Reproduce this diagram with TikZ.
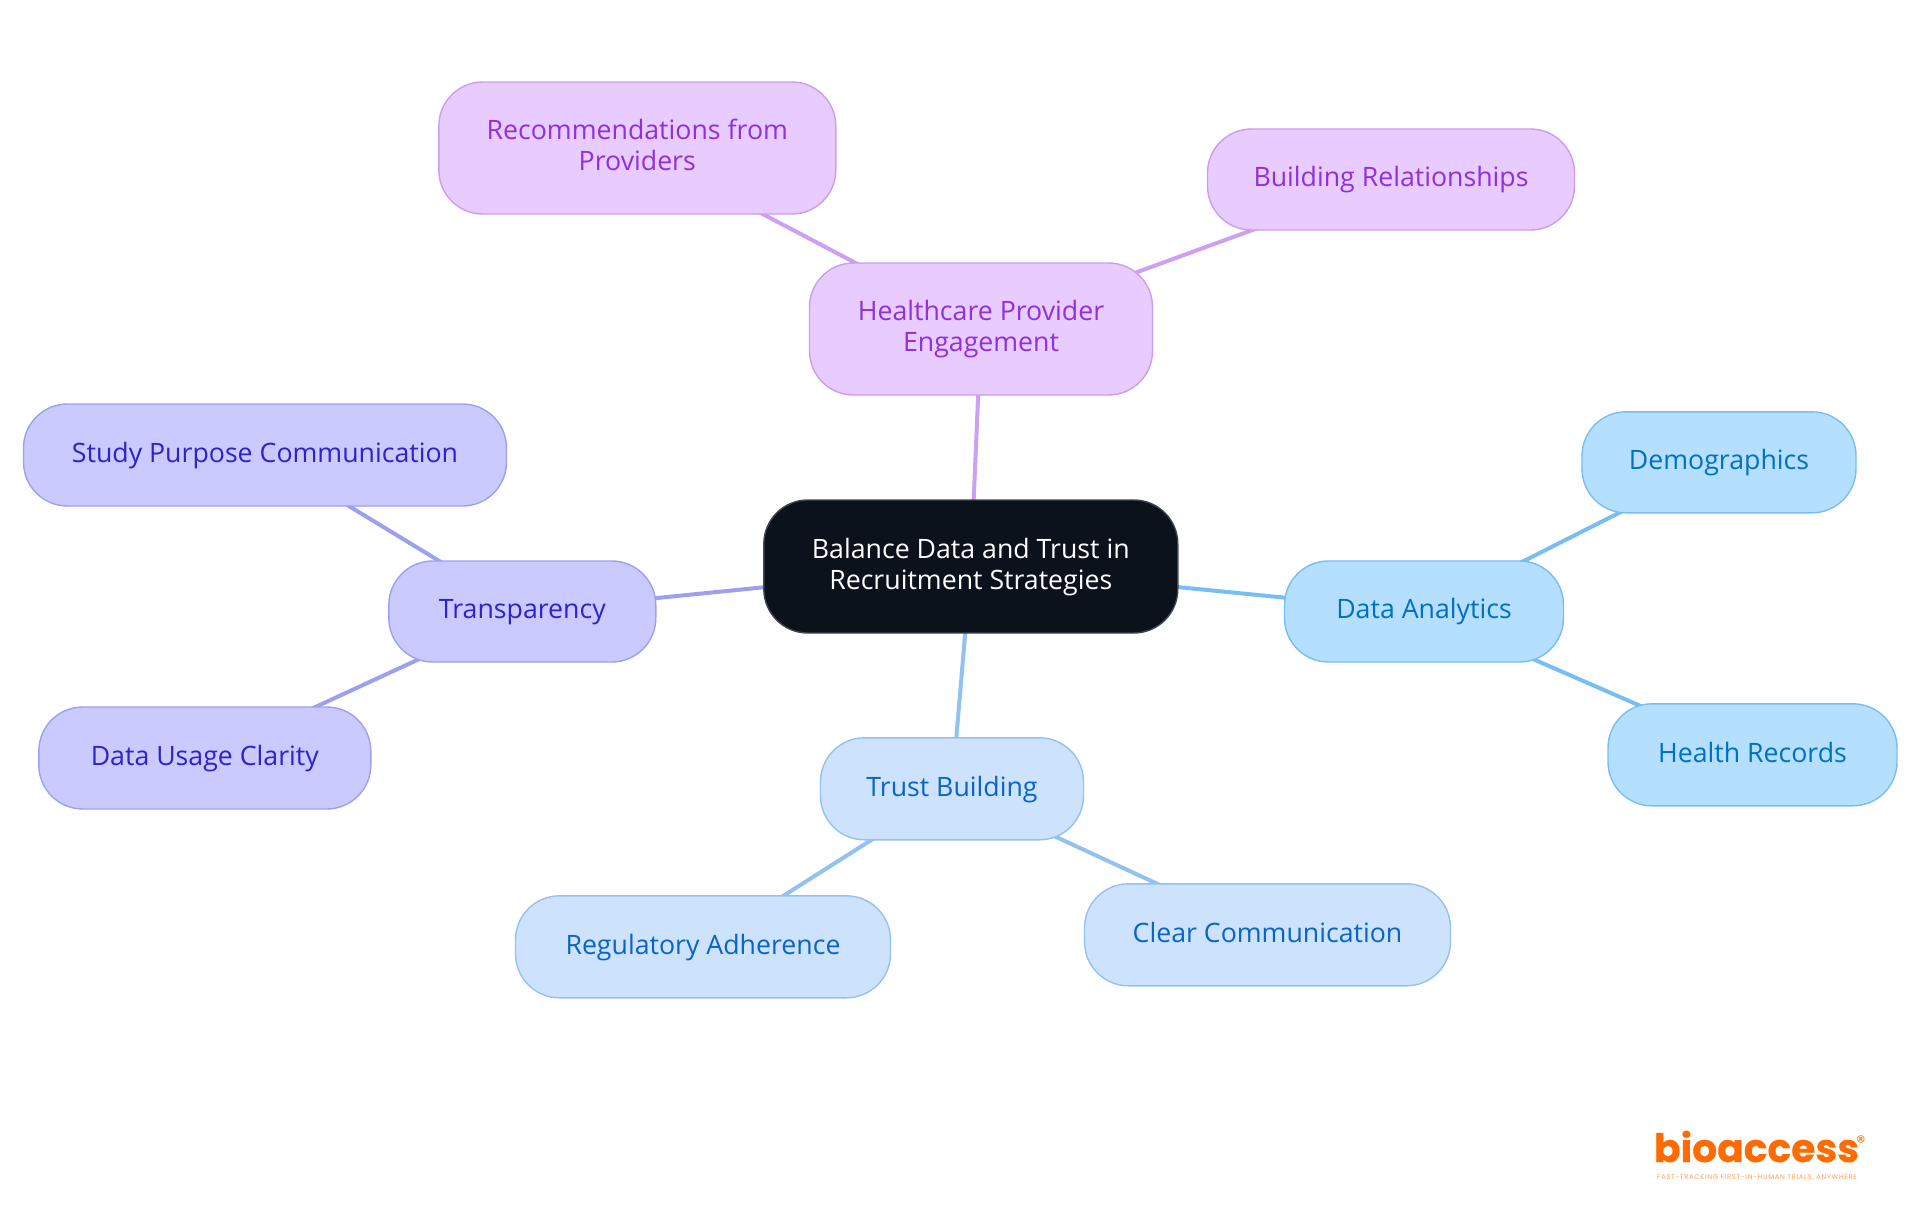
\documentclass[tikz,border=0pt]{standalone}
\usepackage{fontspec}
\setmainfont{Open Sans}
\newfontfamily\logofont{Poppins}[BoldFeatures={FakeBold=0.5}]
\usetikzlibrary{backgrounds}
\definecolor{rootfill}{HTML}{0B121B}\definecolor{rootdraw}{HTML}{40454C}
\definecolor{pfill}{HTML}{E8CBFF}\definecolor{pdraw}{HTML}{CB9DF0}\definecolor{ptext}{HTML}{9030DD}\definecolor{pedge}{HTML}{CDA0F3}
\definecolor{sfill}{HTML}{B5DFFF}\definecolor{sdraw}{HTML}{78BEF2}\definecolor{stext}{HTML}{0070C5}
\definecolor{lfill}{HTML}{CDE3FD}\definecolor{ldraw}{HTML}{94C2EF}\definecolor{ltext}{HTML}{0A64C8}
\definecolor{ifill}{HTML}{CACAFF}\definecolor{idraw}{HTML}{9F9FF0}\definecolor{itext}{HTML}{2C22CE}
\definecolor{logoor}{HTML}{FF6B00}\definecolor{logotag}{HTML}{FF9F5C}
\newcommand\lifted[1]{\raisebox{-4.1pt}[0pt][0pt]{\begin{tabular}{@{}c@{}}#1\end{tabular}}}
\tikzset{
  mapbox/.style={rectangle,rounded corners=22pt,line width=0.7pt,inner sep=0pt,outer sep=0pt,
    font=\fontsize{13.35}{15.7}\selectfont},
  rootbox/.style={mapbox,fill=rootfill,draw=rootdraw,text=white},
  purplebox/.style={mapbox,fill=pfill,draw=pdraw,text=ptext},
  skybox/.style={mapbox,fill=sfill,draw=sdraw,text=stext},
  lightbox/.style={mapbox,fill=lfill,draw=ldraw,text=ltext},
  indigobox/.style={mapbox,fill=ifill,draw=idraw,text=itext},
  edge/.style={line width=2pt},
  logoword/.style={inner sep=0pt,outer sep=0pt,text=logoor,font=\logofont\bfseries\fontsize{19.6}{19.6}\selectfont},
  logotagline/.style={inner sep=0pt,outer sep=0pt,text=logotag,font=\logofont\fontsize{3.4}{3.4}\selectfont},
  logomark/.style={inner sep=0pt,outer sep=0pt,text=logoor,font=\logofont\fontsize{9}{9}\selectfont}
}
\begin{document}
\begin{tikzpicture}[x=0.5pt,y=-0.5pt]
\useasboundingbox (0,0) rectangle (1920,1215);
\node[rootbox,minimum width=207pt,minimum height=66.5pt] (root) at (970.8,566.5) {\lifted{Balance Data and Trust in\\Recruitment Strategies}};
\node[purplebox,minimum width=171.5pt,minimum height=66pt] (hpe) at (981,329) {\lifted{Healthcare Provider\\Engagement}};
\node[purplebox,minimum width=198.5pt,minimum height=66pt] (rec) at (637.3,148) {\lifted{Recommendations from\\Providers}};
\node[purplebox,minimum width=183.5pt,minimum height=50.5pt] (rel) at (1391,179.5) {\lifted{Building Relationships}};
\node[skybox,minimum width=139.5pt,minimum height=50.5pt] (data) at (1424,611.5) {\lifted{Data Analytics}};
\node[skybox,minimum width=137pt,minimum height=50.5pt] (demo) at (1719,462.3) {\lifted{Demographics}};
\node[skybox,minimum width=144.5pt,minimum height=51pt] (health) at (1752.5,754.8) {\lifted{Health Records}};
\node[lightbox,minimum width=131.5pt,minimum height=51pt] (trust) at (952,788.8) {\lifted{Trust Building}};
\node[lightbox,minimum width=183pt,minimum height=51pt] (clear) at (1267.5,934.8) {\lifted{Clear Communication}};
\node[lightbox,minimum width=187.5pt,minimum height=51pt] (reg) at (703,946.8) {\lifted{Regulatory Adherence}};
\node[indigobox,minimum width=133.5pt,minimum height=50.5pt] (trans) at (522.3,611.5) {\lifted{Transparency}};
\node[indigobox,minimum width=241.5pt,minimum height=51pt] (study) at (265,455) {\lifted{Study Purpose Communication}};
\node[indigobox,minimum width=166pt,minimum height=51pt] (usage) at (204.8,758) {\lifted{Data Usage Clarity}};
\begin{scope}[on background layer]
\draw[edge,pedge] (root.center) -- (hpe.center);
\draw[edge,pedge] (hpe.center) -- (rec.center);
\draw[edge,pedge] (hpe.center) -- (rel.center);
\draw[edge,sdraw] (root.center) -- (data.center);
\draw[edge,sdraw] (data.center) -- (demo.center);
\draw[edge,sdraw] (data.center) -- (health.center);
\draw[edge,ldraw] (root.center) -- (trust.center);
\draw[edge,ldraw] (trust.center) -- (clear.center);
\draw[edge,ldraw] (trust.center) -- (reg.center);
\draw[edge,idraw] (root.center) -- (trans.center);
\draw[edge,idraw] (trans.center) -- (study.center);
\draw[edge,idraw] (trans.center) -- (usage.center);
\end{scope}
\node[logoword,anchor=base west] (logo) at (1654,1162) {bioaccess};
\node[logomark] (logor) at (1861,1142) {®};
\node[logotagline,anchor=center] (logot) at (1757,1178) {\addfontfeatures{LetterSpace=10}FAST-TRACKING FIRST-IN-HUMAN TRIALS, ANYWHERE};
\end{tikzpicture}
\end{document}
